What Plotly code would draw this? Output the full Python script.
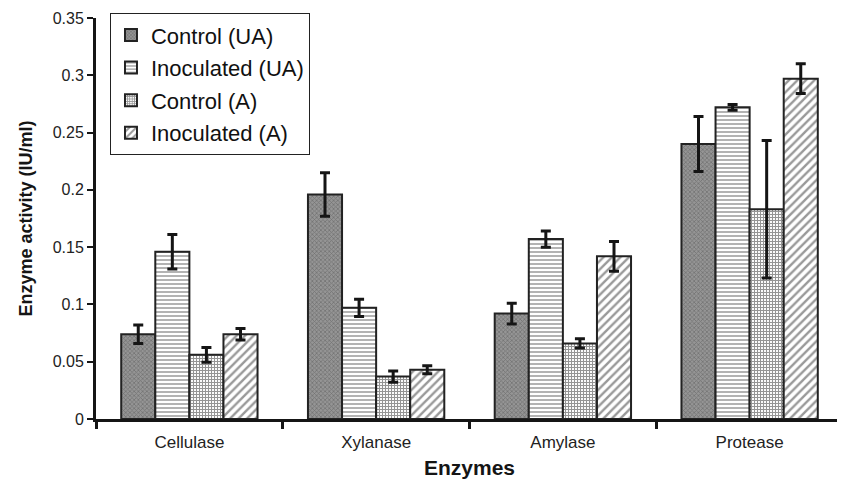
import plotly.graph_objects as go

categories = ["Cellulase", "Xylanase", "Amylase", "Protease"]
series_names = ["Control (UA)", "Inoculated (UA)", "Control (A)", "Inoculated (A)"]
control_ua = [0.074, 0.196, 0.092, 0.240]
control_ua_err = [0.008, 0.019, 0.009, 0.024]
inoculated_ua = [0.146, 0.097, 0.157, 0.272]
inoculated_ua_err = [0.015, 0.0075, 0.007, 0.0025]
control_a = [0.056, 0.037, 0.066, 0.183]
control_a_err = [0.0065, 0.005, 0.004, 0.060]
inoculated_a = [0.074, 0.043, 0.142, 0.297]
inoculated_a_err = [0.005, 0.0035, 0.013, 0.013]
y_ticks = [0, 0.05, 0.1, 0.15, 0.2, 0.25, 0.3, 0.35]

values = [control_ua, inoculated_ua, control_a, inoculated_a]
errors = [control_ua_err, inoculated_ua_err, control_a_err, inoculated_a_err]
patterns = [
    dict(shape="x", size=3, solidity=0.45, fgcolor="#505050", bgcolor="#959595"),
    dict(shape="-", size=4, solidity=0.45, fgcolor="#555555", bgcolor="#ffffff"),
    dict(shape="+", size=3, solidity=0.6, fgcolor="#2a2a2a", bgcolor="#ffffff"),
    dict(shape="/", size=6, solidity=0.4, fgcolor="#333333", bgcolor="#ffffff"),
]

FONT = "Liberation Sans, Arial, sans-serif"
fig = go.Figure()
for i, name in enumerate(series_names):
    fig.add_trace(go.Bar(
        x=categories, y=values[i], name=name, legendgroup=name,
        marker=dict(color=patterns[i]["bgcolor"], pattern=patterns[i],
                    line=dict(color="#222222", width=2)),
        error_y=dict(type="data", array=errors[i], visible=True,
                     color="#151515", thickness=3, width=5),
    ))

fig.update_layout(
    width=845, height=480,
    margin=dict(l=88, r=10, t=10, b=69, autoexpand=False),
    paper_bgcolor="white", plot_bgcolor="white",
    barmode="group", bargap=0.27, bargroupgap=0,
    font=dict(family=FONT, color="#222222", size=14),
    legend=dict(x=0.0187, y=1.012, xanchor="left", yanchor="top",
                bgcolor="white", bordercolor="#222222", borderwidth=1,
                font=dict(size=22, family=FONT, color="#111111"),
                tracegroupgap=1, itemsizing="constant"),
    xaxis=dict(showline=True, linecolor="#151515", linewidth=3,
               ticks="outside", tickson="boundaries", ticklen=7, tickwidth=3,
               tickcolor="#151515", showgrid=False, automargin=False,
               ticklabelstandoff=6,
               tickfont=dict(size=17, family=FONT),
               title=dict(text="<b>Enzymes</b>", font=dict(size=21, family=FONT, color="#151515"),
                          standoff=9)),
    yaxis=dict(range=[0, 0.35], tickvals=y_ticks, ticktext=[str(t) for t in y_ticks],
               showline=True, linecolor="#151515", linewidth=3,
               ticks="outside", ticklen=6, tickwidth=2, tickcolor="#151515",
               showgrid=False, zeroline=False, automargin=False,
               tickfont=dict(size=16, family=FONT),
               title=dict(text="<b>Enzyme activity (IU/ml)</b>",
                          font=dict(size=18, family=FONT, color="#151515"), standoff=16)),
)

fig.write_html("out.html")
